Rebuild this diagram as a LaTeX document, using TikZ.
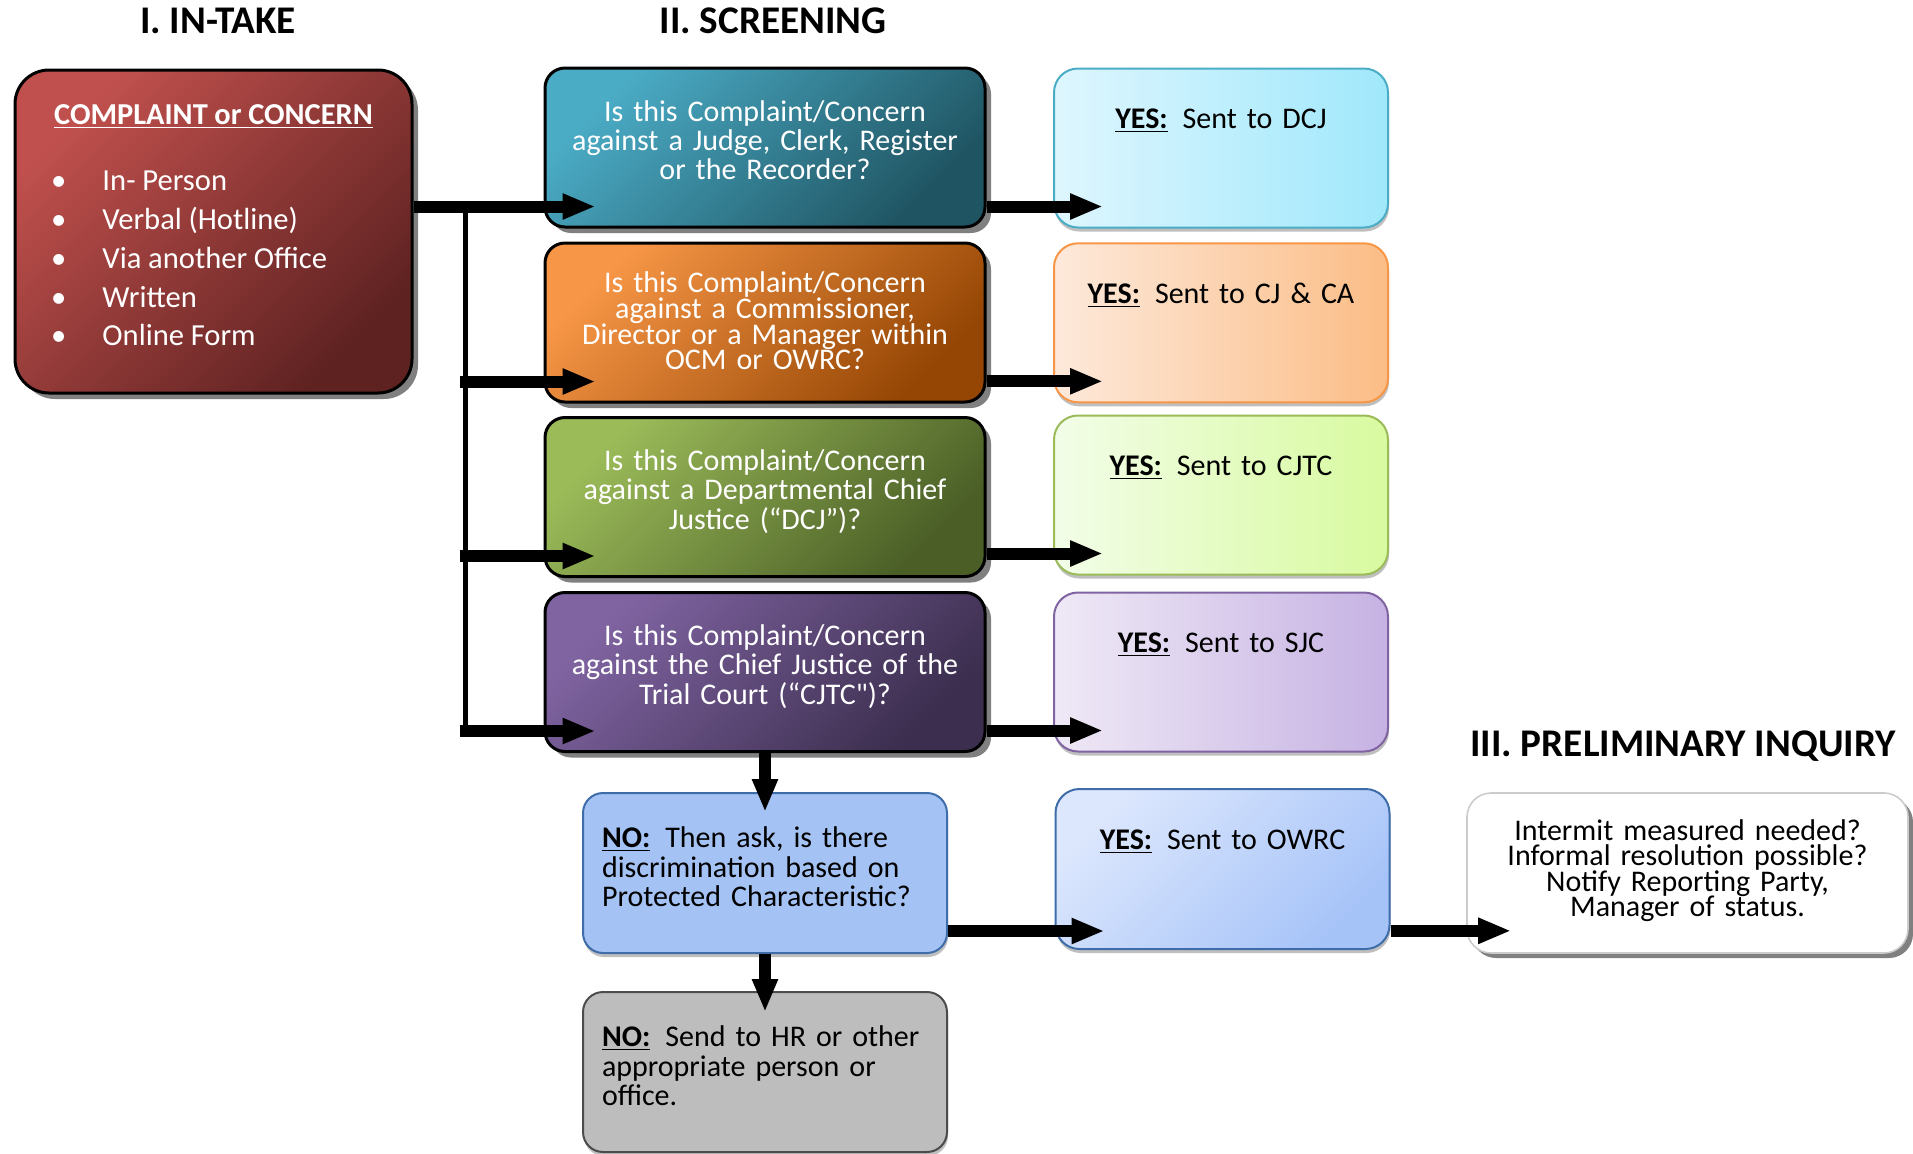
\documentclass[tikz,border=0pt]{standalone}
\usepackage{fontspec}
\setmainfont{Carlito}
\usetikzlibrary{arrows.meta,calc,shadows}

\definecolor{intakeA}{HTML}{C0504D}
\definecolor{intakeB}{HTML}{5E2221}
\definecolor{tealA}{HTML}{4BACC6}
\definecolor{tealB}{HTML}{1F5462}
\definecolor{orangeA}{HTML}{F79646}
\definecolor{orangeB}{HTML}{954604}
\definecolor{greenA}{HTML}{9BBB59}
\definecolor{greenB}{HTML}{4A5E26}
\definecolor{purpleA}{HTML}{8064A2}
\definecolor{purpleB}{HTML}{3B2E4E}
\definecolor{skyA}{HTML}{DEF6FE}
\definecolor{skyB}{HTML}{A0E8FB}
\definecolor{peachA}{HTML}{FDE9DB}
\definecolor{peachB}{HTML}{FBBD86}
\definecolor{limeA}{HTML}{F2FDE8}
\definecolor{limeB}{HTML}{D8FA9F}
\definecolor{lilacA}{HTML}{EFE9F6}
\definecolor{lilacB}{HTML}{C6B2E3}
\definecolor{owrcA}{HTML}{DCE7FD}
\definecolor{owrcB}{HTML}{A6C3F8}
\definecolor{owrcline}{HTML}{3F6DAA}
\definecolor{nofill}{HTML}{A4C2F4}
\definecolor{hrfill}{HTML}{BDBDBD}

\newcommand{\bul}{\makebox[29.5pt][l]{\hspace{3.8pt}\textbullet}}
\newcommand{\ans}[1]{\textbf{\underline{#1}}\enspace}

\tikzset{
  heading/.style={anchor=base, font=\fontsize{19.6}{22}\selectfont\bfseries},
  diag/.style 2 args={top color=#1, bottom color=#2, shading angle=45},
  darkbox/.style={draw=black, line width=1.5pt, text=white, inner ysep=0pt,
    drop shadow={shadow xshift=3pt, shadow yshift=-3pt, fill=black!50, opacity=1}},
  intakebox/.style={darkbox, rounded corners=17pt, text width=170pt, inner xsep=14.25pt,
    align=left, text height=27pt, text depth=134.5pt},
  qbox/.style={darkbox, rounded corners=10pt, text width=210pt, inner xsep=5pt,
    align=center, text height=26.5pt, text depth=53pt, font=\fontsize{15}{14.7}\selectfont,
    execute at begin node={\lineskiplimit=-20pt}},
  lightbox/.style={line width=1pt, inner ysep=0pt,
    drop shadow={shadow xshift=0.5pt, shadow yshift=-2pt, opacity=0.25, fill=black}},
  yesbox/.style={lightbox, rounded corners=12pt, text width=160pt, inner xsep=3.5pt,
    align=center, text height=30pt, text depth=49.5pt, font=\fontsize{15}{16}\selectfont},
  nobox/.style={lightbox, rounded corners=10pt, text width=163pt, inner xsep=9.5pt,
    align=left, text height=27.15pt, text depth=52.85pt, font=\fontsize{15}{14.85}\selectfont,
    execute at begin node={\lineskiplimit=-20pt}},
  finbox/.style={draw=black!20, fill=white, line width=0.8pt, rounded corners=12pt,
    text width=210pt, inner xsep=5.25pt, inner ysep=0pt, align=center,
    text height=23.5pt, text depth=56.5pt, font=\fontsize{15}{12.8}\selectfont,
    execute at begin node={\lineskiplimit=-20pt},
    drop shadow={shadow xshift=2.5pt, shadow yshift=-2.5pt, fill=black!50, opacity=1}},
  flow/.style={line width=6pt, -{Triangle[length=16.5pt,width=12pt]}},
  trunk/.style={line width=2.5pt}
}

\begin{document}
\begin{tikzpicture}[x=0.5pt,y=-0.5pt]
\useasboundingbox (0,0) rectangle (1913,1153);

\node[heading] (t1) at (218,33.3) {I. IN-TAKE};
\node[heading] (t2) at (773,33.3) {II. SCREENING};
\node[heading] (t3) at (1683,756.7) {III. PRELIMINARY INQUIRY};

\node[intakebox, diag={intakeA}{intakeB}] (intake) at (213.5,231.5) {%
  \centering\fontsize{15.2}{16}\selectfont\textbf{\underline{COMPLAINT or CONCERN}}\par
  \vspace{13.9pt}
  \raggedright\fontsize{15.3}{19.4}\selectfont
  \bul In- Person\\
  \bul Verbal (Hotline)\\
  \bul Via another Office\\
  \bul Written\\
  \bul Online Form\par};

\node[qbox, diag={tealA}{tealB}] (q1) at (765,147.5)
  {Is this Complaint/Concern\\ against a Judge, Clerk, Register\\ or the Recorder?};
\node[qbox, diag={orangeA}{orangeB}, text height=24.85pt, text depth=54.65pt,
  font=\fontsize{15}{12.85}\selectfont] (q2) at (765,322.5)
  {Is this Complaint/Concern\\ against a Commissioner,\\ Director or a Manager within\\ OCM or OWRC?};
\node[qbox, diag={greenA}{greenB}] (q3) at (765,497)
  {Is this Complaint/Concern\\ against a Departmental Chief\\ Justice (“DCJ”)?};
\node[qbox, diag={purpleA}{purpleB}] (q4) at (765,672)
  {Is this Complaint/Concern\\ against the Chief Justice of the\\ Trial Court (“CJTC\textquotedbl)?};

\node[yesbox, draw=tealA, left color=skyA, right color=skyB] (y1) at (1221,148)
  {\ans{YES:}Sent to DCJ};
\node[yesbox, draw=orangeA, left color=peachA, right color=peachB] (y2) at (1221,322.8)
  {\ans{YES:}Sent to CJ \& CA};
\node[yesbox, draw=greenA, left color=limeA, right color=limeB] (y3) at (1221,495)
  {\ans{YES:}Sent to CJTC};
\node[yesbox, draw=purpleA, left color=lilacA, right color=lilacB] (y4) at (1221,672)
  {\ans{YES:}Sent to SJC};
\node[yesbox, draw=owrcline, diag={owrcA}{owrcB}, text depth=50pt] (y5) at (1222.5,869)
  {\ans{YES:}Sent to OWRC};

\node[nobox, draw=owrcline, fill=nofill] (no) at (765,873)
  {\ans{NO:}Then ask, is there\\ discrimination based on\\ Protected Characteristic?};
\node[nobox, draw=black!70, fill=hrfill] (no2) at (765,1072)
  {\ans{NO:}Send to HR or other\\ appropriate person or\\ office.};

\node[finbox] (fin) at (1687.5,873)
  {Intermit measured needed?\\ Informal resolution possible?\\ Notify Reporting Party,\\ Manager of status.};

\coordinate (qin1) at ($(q1.south west)+(52,-22)$);
\coordinate (qin2) at ($(q2.south west)+(52,-22)$);
\coordinate (qin3) at ($(q3.south west)+(52,-22)$);
\coordinate (qin4) at ($(q4.south west)+(52,-22)$);
\coordinate (yin1) at ($(y1.south west)+(50,-22)$);
\coordinate (yin2) at ($(y2.south west)+(50,-22)$);
\coordinate (yin3) at ($(y3.south west)+(50,-22)$);
\coordinate (yin4) at ($(y4.south west)+(50,-22)$);
\coordinate (yin5) at ($(y5.south west)+(50,-19)$);
\coordinate (finin) at ($(fin.south west)+(45,-23)$);
\coordinate (noin) at ($(no.north)+(0,20)$);
\coordinate (no2in) at ($(no2.north)+(0,21)$);
\coordinate (split) at ($(intake.east |- qin1)+(52,0)$);

\draw[flow] (intake.east |- qin1) -- (qin1);
\draw[trunk] (split) -- ($(split |- qin4)+(0,6)$);
\draw[flow] ($(split |- qin2)+(-6,0)$) -- (qin2);
\draw[flow] ($(split |- qin3)+(-6,0)$) -- (qin3);
\draw[flow] ($(split |- qin4)+(-6,0)$) -- (qin4);

\draw[flow] (q1.east |- yin1) -- (yin1);
\draw[flow] (q2.east |- yin2) -- (yin2);
\draw[flow] (q3.east |- yin3) -- (yin3);
\draw[flow] (q4.east |- yin4) -- (yin4);

\draw[flow] (q4.south) -- (noin);
\draw[flow] (no.south) -- (no2in);
\draw[flow] (no.east |- yin5) -- (yin5);
\draw[flow] (y5.east |- finin) -- (finin);
\end{tikzpicture}
\end{document}
